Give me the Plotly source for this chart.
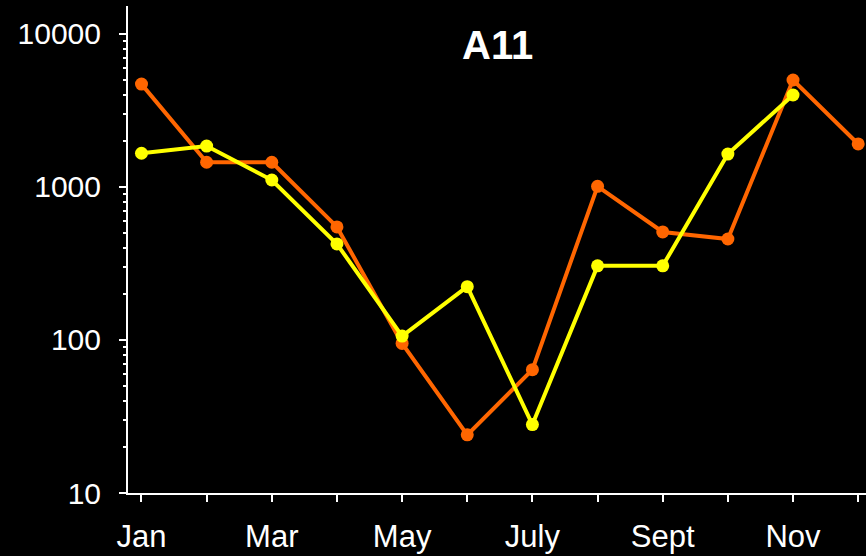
import plotly.graph_objects as go

# Monthly counts for site A11 (log scale)
months = ["Jan", "Feb", "Mar", "Apr", "May", "Jun",
          "Jul", "Aug", "Sep", "Oct", "Nov", "Dec"]
tick_labels = ["Jan", "", "Mar", "", "May", "", "July", "", "Sept", "", "Nov", ""]

series_orange = [4700, 1450, 1450, 548, 95, 24, 64, 1010, 508, 457, 5000, 1910]
series_yellow = [1660, 1850, 1110, 424, 106, 223, 28, 305, 305, 1640, 3990, None]

y_major = [10, 100, 1000, 10000]
y_major_text = ["10", "100", "1000", "10000"]
y_minor = [m * 10 ** e for e in (1, 2, 3) for m in range(2, 10)]

x_idx = list(range(len(months)))
y_range = [1, 4.1825]

fig = go.Figure()
# transparent copy of the first series that carries the overlaid minor-tick axis
fig.add_trace(go.Scatter(
    x=x_idx, y=series_orange, yaxis="y2", mode="lines",
    line=dict(width=0), opacity=0, showlegend=False, hoverinfo="skip",
))
fig.add_trace(go.Scatter(
    x=x_idx, y=series_orange, mode="lines+markers", name="orange",
    line=dict(color="#FF6600", width=4),
    marker=dict(color="#FF6600", size=13),
))
fig.add_trace(go.Scatter(
    x=x_idx, y=series_yellow, mode="lines+markers", name="yellow",
    line=dict(color="#FFFF00", width=4),
    marker=dict(color="#FFFF00", size=13),
    connectgaps=False,
))

font_family = "Liberation Sans, Arial, sans-serif"

plot_top, plot_bottom, plot_left, plot_right = 6, 63, 128, 0
plot_h = 556 - plot_top - plot_bottom
plot_w = 866 - plot_left - plot_right

fig.update_layout(
    width=866, height=556,
    paper_bgcolor="black", plot_bgcolor="black",
    margin=dict(l=plot_left, r=plot_right, t=plot_top, b=plot_bottom),
    showlegend=False,
    font=dict(family=font_family, color="white", size=30),
    annotations=[dict(
        text="<b>A11</b>", xref="paper", yref="paper",
        x=(498 - plot_left) / plot_w, xanchor="center",
        y=1 - (45 - plot_top) / plot_h, yanchor="middle",
        showarrow=False, font=dict(size=40, color="white", family=font_family),
    )],
    yaxis2=dict(
        overlaying="y", side="left", type="log", range=y_range,
        tickmode="array", tickvals=y_minor, ticktext=[""] * len(y_minor),
        showgrid=False, zeroline=False, showline=False,
        ticks="outside", ticklen=4, tickwidth=2, tickcolor="white",
    ),
)

fig.update_xaxes(
    range=[-0.207, 11.12],
    tickmode="array", tickvals=x_idx, ticktext=tick_labels,
    showgrid=False, zeroline=False,
    showline=True, linecolor="white", linewidth=2,
    ticks="outside", ticklen=7, tickwidth=2, tickcolor="white",
    tickfont=dict(size=31, color="white"),
    ticklabelstandoff=8,
)
fig.update_layout(yaxis=dict(
    type="log", range=y_range,
    tickmode="array", tickvals=y_major, ticktext=y_major_text,
    showgrid=False, zeroline=False,
    showline=True, linecolor="white", linewidth=2,
    ticks="outside", ticklen=7, tickwidth=2, tickcolor="white",
    tickfont=dict(size=30, color="white"),
    ticklabelstandoff=12,
))

fig.write_html("out.html")
